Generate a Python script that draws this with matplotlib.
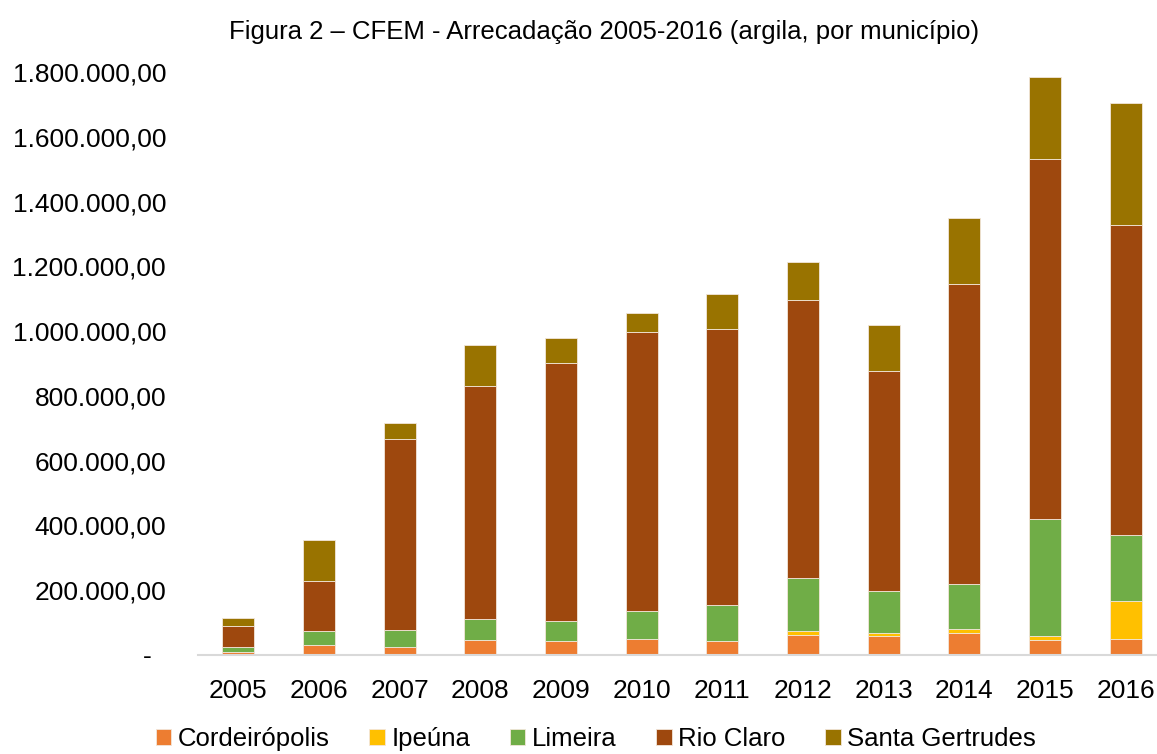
import numpy as np
import matplotlib.pyplot as plt
from matplotlib.ticker import FuncFormatter

plt.rcParams['font.family'] = ['Liberation Sans', 'DejaVu Sans']

anos = ['2005', '2006', '2007', '2008', '2009', '2010',
        '2011', '2012', '2013', '2014', '2015', '2016']

# valores (R$)
cordeiropolis = [8300, 29900, 23800, 45400, 42300, 48500, 42300, 62700, 59600, 67000, 47200, 50300]
ipeuna = [0, 0, 0, 0, 0, 0, 0, 11400, 9300, 14200, 10500, 117300]
limeira = [16400, 44200, 54300, 64800, 62700, 87400, 112000, 163600, 127800, 138000, 363000, 203800]
rio_claro = [63900, 154000, 589700, 719000, 795600, 860500, 851000, 857400, 679000, 925000, 1110600, 955300]
santa_gertrudes = [25600, 126600, 48500, 126600, 78100, 59600, 110000, 118300, 142000, 204700, 252200, 377600]

series = [
    ('Cordeirópolis', cordeiropolis, '#ED7D31'),
    ('Ipeúna', ipeuna, '#FFC000'),
    ('Limeira', limeira, '#70AD47'),
    ('Rio Claro', rio_claro, '#9E480E'),
    ('Santa Gertrudes', santa_gertrudes, '#997300'),
]

fig = plt.figure(figsize=(11.57, 7.54), dpi=100)
ax = fig.add_axes([198 / 1157, 99 / 754, 968 / 1157, 583 / 754])

x = np.arange(len(anos))
base = np.zeros(len(anos))
for nome, vals, cor in series:
    vals = np.array(vals, dtype=float)
    ax.bar(x, vals, 0.4, bottom=base, color=cor, label=nome,
           edgecolor='#F2E6DA', linewidth=0.6)
    base += vals

ax.set_xlim(-0.5, 11.5)
ax.set_ylim(0, 1800000)
ax.set_yticks(np.arange(0, 1800001, 200000))


def fmt(v, pos):
    if v == 0:
        return '-  '
    s = f'{int(v):,}'.replace(',', '.')
    return s + ',00'


ax.yaxis.set_major_formatter(FuncFormatter(fmt))
ax.set_xticks(x)
ax.set_xticklabels(anos)
ax.tick_params(axis='y', length=0, pad=23, labelsize=19)
ax.tick_params(axis='x', length=0, pad=17, labelsize=19)

for s in ['top', 'right', 'left']:
    ax.spines[s].set_visible(False)
ax.spines['bottom'].set_color('#D9D9D9')
ax.spines['bottom'].set_linewidth(1.5)

fig.text(0.522, 0.958, 'Figura 2 – CFEM - Arrecadação 2005-2016 (argila, por município)',
         ha='center', va='center', fontsize=18.5)

fig.legend(loc='center', bbox_to_anchor=(0.515, 0.02), ncol=5, frameon=False,
           fontsize=18.5, handlelength=0.6, handleheight=0.6, handletextpad=0.25,
           columnspacing=1.55)

fig.savefig('out.png', dpi=100)
